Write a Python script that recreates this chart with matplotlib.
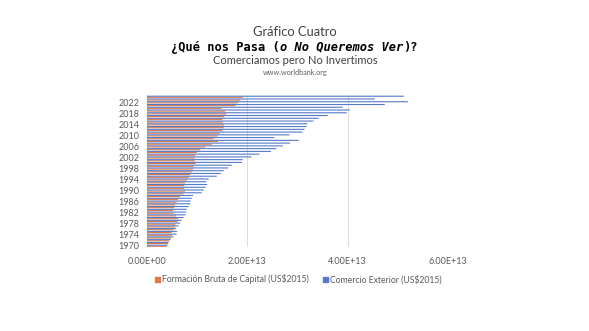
import matplotlib
matplotlib.use("Agg")
import matplotlib.pyplot as plt
import numpy as np

years = list(range(1970, 2025))
formacion = [3.9, 4.2, 4.4, 4.8, 5.0, 4.9, 5.3, 5.6, 5.7, 6.1,
             6.2, 5.8, 5.3, 5.2, 5.4, 5.6, 5.9, 6.2, 6.6, 7.3,
             7.6, 7.4, 7.4, 7.6, 8.0, 8.3, 8.6, 8.9, 9.2, 9.3,
             9.7, 9.5, 9.5, 9.6, 9.9, 10.6, 11.6, 12.9, 14.2, 13.3,
             14.0, 14.5, 15.0, 15.3, 15.4, 15.1, 15.0, 15.4, 15.8, 15.6,
             14.8, 17.6, 18.1, 18.6, 19.1]
comercio = [4.1, 4.3, 4.7, 5.3, 5.9, 6.0, 5.8, 6.3, 6.6, 6.9,
            7.3, 7.7, 7.8, 7.9, 8.3, 8.6, 8.7, 8.9, 9.2, 10.9,
            11.3, 11.7, 12.0, 11.8, 12.3, 13.9, 14.7, 15.3, 16.2, 16.9,
            18.9, 19.1, 20.8, 22.4, 24.7, 25.8, 27.1, 28.5, 30.2, 25.4,
            28.4, 31.0, 31.4, 31.8, 32.0, 33.2, 34.2, 36.0, 39.8, 40.4,
            39.0, 47.4, 52.0, 45.4, 51.2]
formacion = [v * 1e12 for v in formacion]
comercio = [v * 1e12 for v in comercio]
xticks = [0, 2e13, 4e13, 6e13]
xtick_labels = ["0.00E+00", "2.00E+13", "4.00E+13", "6.00E+13"]
label_years = list(range(1970, 2023, 4))
series_names = ["Formación Bruta de Capital (US$2015)", "Comercio Exterior (US$2015)"]

W, H = 589, 331
fig = plt.figure(figsize=(W / 100, H / 100), dpi=100)
fig.patch.set_facecolor("white")

x0, x1 = 147, 448
ytop, ybot = 95.4, 247.1
ax = fig.add_axes([x0 / W, 1 - ybot / H, (x1 - x0) / W, (ybot - ytop) / H])

orange = "#E07A45"
blue = "#5479C9"
pos = np.arange(len(years))
bh = 0.4
ax.barh(pos - 0.2, formacion, height=bh, color=orange, zorder=3, linewidth=0,
        snap=False, antialiased=True)
ax.barh(pos + 0.2, comercio, height=bh, color=blue, zorder=3, linewidth=0,
        snap=False, antialiased=True)

ax.set_xlim(0, 6e13)
ax.set_ylim(-0.5, len(years) - 0.5)
ax.set_xticks(xticks)
ax.set_xticklabels(xtick_labels)
ax.set_yticks([years.index(y) for y in label_years])
ax.set_yticklabels([str(y) for y in label_years])
ax.tick_params(axis="both", length=0, colors="#595959", labelsize=6.5)
ax.tick_params(axis="y", pad=5.5)
ax.tick_params(axis="x", pad=7)
for lab in ax.get_xticklabels() + ax.get_yticklabels():
    lab.set_fontfamily("Lato")
ax.grid(axis="x", color="#DDDDDD", linewidth=0.8, zorder=0)
for s in ax.spines.values():
    s.set_visible(False)

fig.canvas.draw()
renderer = fig.canvas.get_renderer()


def fit_text(s, xc, yc, width, **kw):
    t = fig.text(xc / W, 1 - yc / H, s, ha="center", va="center", **kw)
    fig.canvas.draw()
    bb = t.get_window_extent(renderer)
    t.set_fontsize(t.get_fontsize() * width / bb.width)
    return t


fit_text("Gráfico Cuatro", 295, 32, 84, family="Lato",
         color="#404040", fontsize=11)
fit_text("Comerciamos pero No Invertimos", 295, 60, 164, family="Lato",
         color="#404040", fontsize=9)
fit_text("www.worldbank.org", 295, 72, 66, family="Lato", color="#606060",
         fontsize=6)

# Second title line: mixed bold / bold italic monospace
parts = [("¿Qué nos Pasa (", "normal"), ("o No Queremos Ver", "italic"), (")?", "normal")]
fs = 8.4
target_w = 245
texts = []
for s, st in parts:
    texts.append(fig.text(0, 0, s, family="DejaVu Sans Mono", fontweight="bold",
                          style=st, fontsize=fs, color="black", va="center", ha="left"))
fig.canvas.draw()
total = sum(t.get_window_extent(renderer).width for t in texts)
fs = fs * target_w / total
for t in texts:
    t.set_fontsize(fs)
fig.canvas.draw()
widths = [t.get_window_extent(renderer).width for t in texts]
xstart = 294 - sum(widths) / 2
for t, w in zip(texts, widths):
    t.set_position((xstart / W, 1 - 47 / H))
    xstart += w

# Legend
leg_y = 279.5
items = [(series_names[0], orange, 155), (series_names[1], blue, 323)]
for name, col, xs in items:
    fig.patches.append(plt.Rectangle(((xs) / W, 1 - (leg_y + 2.5) / H), 5 / W, 5 / H,
                                     transform=fig.transFigure, color=col, figure=fig))
    fig.text((xs + 7) / W, 1 - leg_y / H, name, family="Lato", fontsize=6.2,
             color="#595959", va="center", ha="left")

fig.savefig("out.png", dpi=100, facecolor="white")
